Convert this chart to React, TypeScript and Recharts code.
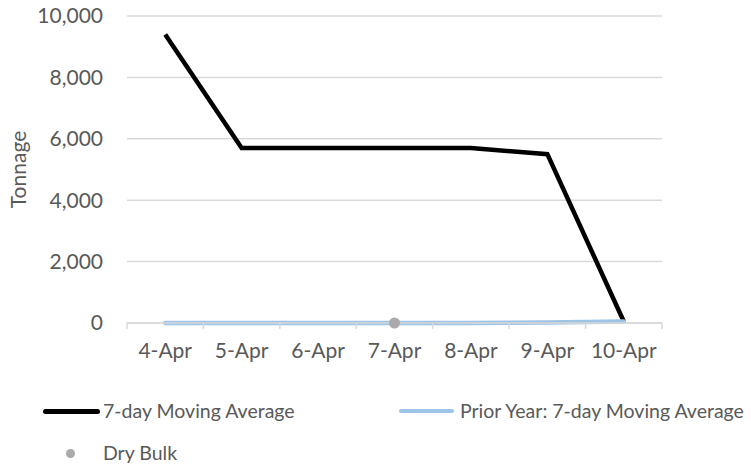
import React from 'react';
import { LineChart, Line, XAxis, YAxis, CartesianGrid, Legend } from 'recharts';

const categories = ['4-Apr', '5-Apr', '6-Apr', '7-Apr', '8-Apr', '9-Apr', '10-Apr'];
const movingAverage = [9400, 5700, 5700, 5700, 5700, 5500, 50];
const priorYear = [0, 0, 0, 0, 0, 15, 50];
const dryBulk: (number | null)[] = [null, null, null, 0, null, null, null];
const yTicks = [0, 2000, 4000, 6000, 8000, 10000];

const data = categories.map((day, i) => ({
  day,
  avg: movingAverage[i],
  prior: priorYear[i],
  dry: dryBulk[i],
}));

const FONT = 'Lato, "Open Sans", sans-serif';
const TEXT = '#595959';
const GRID = '#d9d9d9';
const PLOT_W = 535;
const HALF = PLOT_W / categories.length / 2;

const XTick = (props: any) => {
  const { x, y, payload, index } = props;
  const last = index === categories.length - 1;
  return (
    <g>
      <line x1={x - HALF} y1={y} x2={x - HALF} y2={y + 6} stroke={GRID} strokeWidth={1.5} />
      {last && <line x1={x + HALF} y1={y} x2={x + HALF} y2={y + 6} stroke={GRID} strokeWidth={1.5} />}
      <text x={x} y={y + 35} textAnchor="middle" fill={TEXT} fontSize={21} fontFamily={FONT}>
        {payload.value}
      </text>
    </g>
  );
};

const YLabel = (props: any) => {
  const { viewBox } = props;
  const cx = 17;
  const cy = viewBox.y + viewBox.height / 2;
  return (
    <text
      x={cx}
      y={cy}
      transform={`rotate(-90, ${cx}, ${cy})`}
      textAnchor="middle"
      dominantBaseline="central"
      fill={TEXT}
      fontSize={21}
      fontFamily={FONT}
    >
      Tonnage
    </text>
  );
};

const legendText: React.CSSProperties = {
  position: 'absolute',
  color: TEXT,
  fontSize: 19.5,
  fontFamily: FONT,
  lineHeight: '24px',
  whiteSpace: 'nowrap',
};

const ChartLegend = () => (
  <div style={{ position: 'relative', width: 751, height: 77 }}>
    <div style={{ position: 'absolute', left: 43, top: 19, width: 57, height: 5, background: '#000', borderRadius: 3 }} />
    <div style={{ ...legendText, left: 103, top: 9 }}>7-day Moving Average</div>
    <div style={{ position: 'absolute', left: 399, top: 19, width: 55, height: 4, background: '#9DC3E6', borderRadius: 2 }} />
    <div style={{ ...legendText, left: 460, top: 9 }}>Prior Year: 7-day Moving Average</div>
    <div style={{ position: 'absolute', left: 66, top: 59, width: 9, height: 9, background: '#ABA9AA', borderRadius: '50%' }} />
    <div style={{ ...legendText, left: 103, top: 51 }}>Dry Bulk</div>
  </div>
);

export default function App() {
  return (
    <div style={{ position: 'absolute', left: 0, top: 0, background: '#fff' }}>
      <LineChart width={751} height={467} data={data} margin={{ top: 16, right: 89, left: 0, bottom: 100 }}>
        <CartesianGrid horizontal vertical={false} stroke={GRID} strokeWidth={1.5} />
        <XAxis
          dataKey="day"
          scale="band"
          height={44}
          axisLine={{ stroke: GRID, strokeWidth: 1.5 }}
          tickLine={false}
          tickSize={0}
          tickMargin={0}
          tick={<XTick />}
          interval={0}
        />
        <YAxis
          width={127}
          domain={[0, 10000]}
          ticks={yTicks}
          axisLine={false}
          tickLine={false}
          tickSize={0}
          tickMargin={24}
          tickFormatter={(v: number) => v.toLocaleString('en-US')}
          tick={{ fill: TEXT, fontSize: 21, fontFamily: FONT }}
          label={<YLabel />}
        />
        <Line dataKey="avg" stroke="#000" strokeWidth={4.5} dot={false} activeDot={false} isAnimationActive={false} />
        <Line dataKey="prior" stroke="#9DC3E6" strokeWidth={4.5} strokeLinecap="round" dot={false} activeDot={false} isAnimationActive={false} />
        <Line
          dataKey="dry"
          stroke="none"
          dot={{ r: 5.5, fill: '#ABA9AA', stroke: 'none' }}
          activeDot={false}
          isAnimationActive={false}
        />
        <Legend
          verticalAlign="middle"
          align="center"
          layout="horizontal"
          wrapperStyle={{ left: 0, top: 390, width: 751, height: 77 }}
          content={<ChartLegend />}
        />
      </LineChart>
    </div>
  );
}
